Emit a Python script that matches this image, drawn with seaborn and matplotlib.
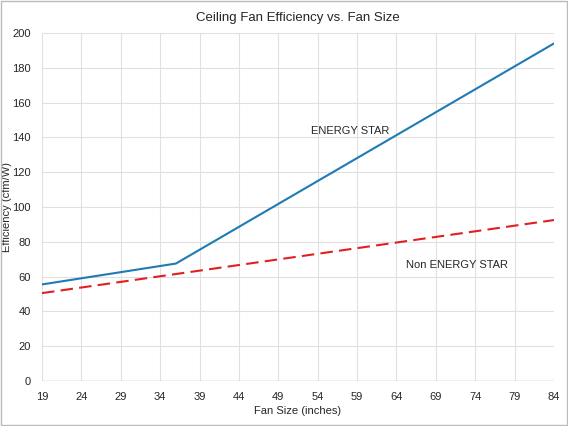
import matplotlib
matplotlib.use("Agg")
import matplotlib.pyplot as plt
import seaborn as sns
from matplotlib.patches import Rectangle

es_x = [19, 36, 84]
es_y = [55.5, 67.5, 194]
non_x = [19, 84]
non_y = [50.5, 92.5]
xticks = list(range(19, 85, 5))

sns.set_theme(style="whitegrid")
plt.rcParams['font.family'] = ['Liberation Sans', 'DejaVu Sans']
fig = plt.figure(figsize=(5.68, 4.26), dpi=100)
ax = fig.add_axes([42/568, 45/426, 512/568, 348/426])
sns.lineplot(x=es_x, y=es_y, ax=ax, color="#1f7ab5", linewidth=1.5)
sns.lineplot(x=non_x, y=non_y, ax=ax, color="#e02020", linewidth=1.5, linestyle=(0, (6, 3)))
ax.set_xlim(19, 84)
ax.set_ylim(0, 200)
ax.set_xticks(xticks)
ax.set_yticks(range(0, 201, 20))
ax.tick_params(labelsize=8, pad=2)
ax.grid(color="#e0e0e0", linewidth=0.8)
for s in ax.spines.values():
    s.set_visible(False)
ax.axhline(0, color="#bbbbbb", linewidth=1)
ax.set_xlabel("Fan Size (inches)", fontsize=8, labelpad=3)
ax.set_ylabel("Efficiency (cfm/W)", fontsize=8)
ax.yaxis.set_label_coords(-30/512, 0.5)
ax.set_title("Ceiling Fan Efficiency vs. Fan Size", fontsize=9.5, pad=9)
ax.text(53.1, 142, "ENERGY STAR", fontsize=8)
ax.text(65.2, 65, "Non ENERGY STAR", fontsize=8)
fig.patches.append(Rectangle((0.002, 0.002), 0.996, 0.996, transform=fig.transFigure,
                             fill=False, edgecolor="#bbbbbb", linewidth=1))
fig.savefig("out.png", dpi=100)
